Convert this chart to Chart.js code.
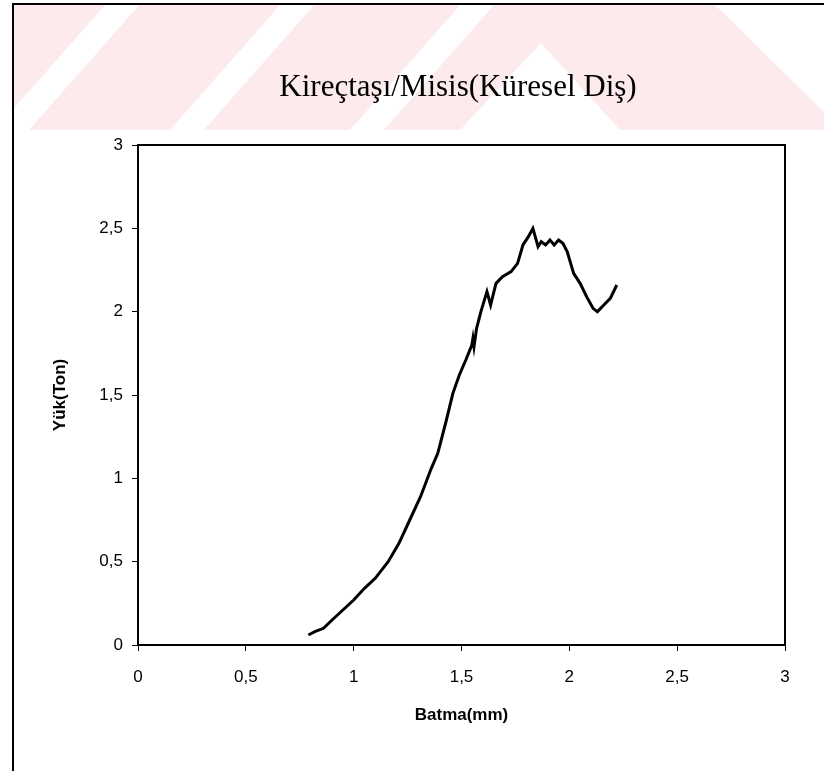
<!DOCTYPE html>
<html>
<head>
<meta charset="utf-8">
<script src="https://cdn.jsdelivr.net/npm/chart.js@4.4.1/dist/chart.umd.min.js"></script>
<style>
  html, body { margin: 0; padding: 0; background: #fff; }
  #wrap { width: 824px; height: 771px; }
</style>
</head>
<body>
<div id="wrap"><canvas id="loadChart" width="824" height="771"></canvas></div>
<script>
// Batma (mm) vs Yük (Ton)
const batma = [0.79, 0.82, 0.86, 0.90, 0.95, 1.00, 1.05, 1.10, 1.16, 1.21, 1.26, 1.31, 1.36, 1.39, 1.43, 1.46, 1.49, 1.52,
    1.548, 1.553, 1.558, 1.57, 1.59, 1.618, 1.635, 1.66, 1.69, 1.73, 1.76, 1.785, 1.81, 1.831, 1.855, 1.87, 1.89, 1.91,
    1.93, 1.95, 1.97, 1.99, 2.02, 2.05, 2.08, 2.11, 2.13, 2.16, 2.19, 2.22];
const yuk = [0.06, 0.08, 0.10, 0.15, 0.21, 0.27, 0.34, 0.40, 0.50, 0.61, 0.75, 0.89, 1.06, 1.15, 1.35, 1.51, 1.62, 1.71,
    1.80, 1.84, 1.79, 1.90, 2.00, 2.12, 2.04, 2.17, 2.21, 2.24, 2.29, 2.40, 2.45, 2.50, 2.39, 2.42, 2.40, 2.43,
    2.40, 2.43, 2.41, 2.36, 2.23, 2.17, 2.09, 2.02, 2.00, 2.04, 2.08, 2.16];
const axisTicks = [0, 0.5, 1, 1.5, 2, 2.5, 3];

const chartTitle = "Kireçtaşı/Misis(Küresel Diş)";

const points = batma.map((x, i) => ({ x: x, y: yuk[i] }));

function commaLabel(v) {
    return String(v).replace(".", ",");
}

// page background: scan watermark, outer frame
const pagePlugin = {
    id: "page",
    beforeDraw(chart) {
        const ctx = chart.ctx;
        ctx.save();
        ctx.fillStyle = "#ffffff";
        ctx.fillRect(0, 0, chart.width, chart.height);

        ctx.fillStyle = "#fdeaed";
        ctx.fillRect(13, 5, 811, 125);
        ctx.fillStyle = "#ffffff";
        [105, 280, 460].forEach(function (tx) {
            ctx.beginPath();
            ctx.moveTo(tx, 5);
            ctx.lineTo(tx + 34, 5);
            ctx.lineTo(tx + 34 - 110, 130);
            ctx.lineTo(tx - 110, 130);
            ctx.closePath();
            ctx.fill();
        });
        ctx.beginPath();
        ctx.moveTo(541, 43);
        ctx.lineTo(620, 130);
        ctx.lineTo(460, 130);
        ctx.closePath();
        ctx.fill();
        ctx.beginPath();
        ctx.moveTo(715, 5);
        ctx.lineTo(824, 5);
        ctx.lineTo(824, 112);
        ctx.closePath();
        ctx.fill();

        ctx.strokeStyle = "#000";
        ctx.lineWidth = 2;
        ctx.beginPath();
        ctx.moveTo(13, 771);
        ctx.lineTo(13, 4);
        ctx.lineTo(824, 4);
        ctx.stroke();
        ctx.restore();
    },
    afterDraw(chart) {
        const ctx = chart.ctx;
        const a = chart.chartArea;
        ctx.save();
        ctx.strokeStyle = "#000";
        ctx.lineWidth = 2;
        ctx.strokeRect(a.left, a.top, a.right - a.left, a.bottom - a.top);
        ctx.fillStyle = "#000";
        ctx.font = "31px 'Liberation Serif', 'Times New Roman', serif";
        ctx.textAlign = "center";
        ctx.textBaseline = "middle";
        ctx.fillText(chartTitle, 458, 88);
        ctx.restore();
    }
};

const tickFont = { family: "'Liberation Sans', Arial, sans-serif", size: 17 };
const titleFont = { family: "'Liberation Sans', Arial, sans-serif", size: 17, weight: "bold" };

new Chart(document.getElementById("loadChart"), {
    type: "scatter",
    data: {
        datasets: [{
            data: points,
            showLine: true,
            borderColor: "#000",
            borderWidth: 3,
            pointRadius: 0,
            tension: 0
        }]
    },
    options: {
        responsive: false,
        animation: false,
        layout: { padding: { left: 46, top: 145, right: 39, bottom: 41 } },
        plugins: { legend: { display: false }, tooltip: { enabled: false } },
        scales: {
            x: {
                type: "linear",
                min: 0,
                max: 3,
                afterBuildTicks: function (s) { s.ticks = axisTicks.map(v => ({ value: v })); },
                afterFit: function (s) { s.height = 85; },
                ticks: { color: "#000", font: tickFont, padding: 16, callback: commaLabel, maxRotation: 0 },
                grid: { drawOnChartArea: false, color: "#000", tickLength: 6, lineWidth: 1 },
                border: { display: false },
                title: { display: true, text: "Batma(mm)", color: "#000", font: titleFont, padding: { top: 4, bottom: 4 } }
            },
            y: {
                type: "linear",
                min: 0,
                max: 3,
                afterBuildTicks: function (s) { s.ticks = axisTicks.map(v => ({ value: v })); },
                afterFit: function (s) { s.width = 92; },
                ticks: { color: "#000", font: tickFont, padding: 9, callback: commaLabel },
                grid: { drawOnChartArea: false, color: "#000", tickLength: 6, lineWidth: 1 },
                border: { display: false },
                title: { display: true, text: "Yük(Ton)", color: "#000", font: titleFont, padding: { top: 4, bottom: 4 } }
            }
        }
    },
    plugins: [pagePlugin]
});
</script>
</body>
</html>
